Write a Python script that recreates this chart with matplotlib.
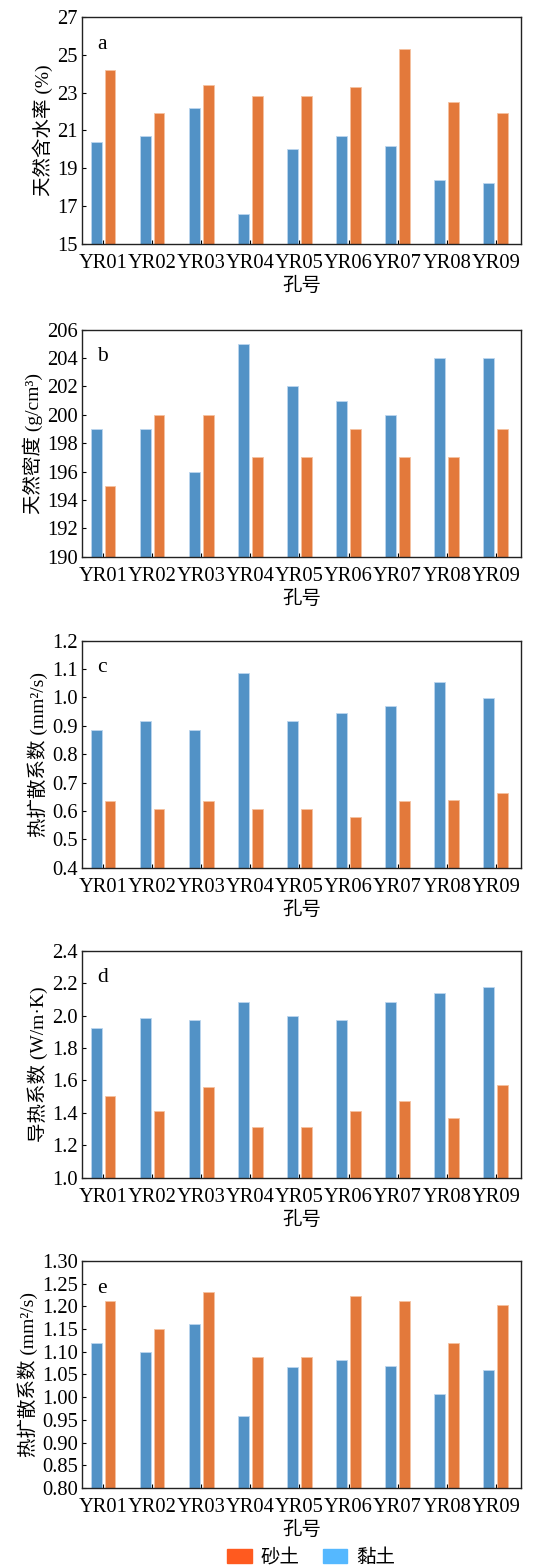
import numpy as np
import matplotlib
matplotlib.use("Agg")
from matplotlib import pyplot as plt
from matplotlib.patches import Patch

plt.rcParams['font.family'] = ['Liberation Serif', 'Noto Sans CJK SC']
plt.rcParams['axes.unicode_minus'] = False

holes = ['YR01', 'YR02', 'YR03', 'YR04', 'YR05', 'YR06', 'YR07', 'YR08', 'YR09']

# clay (blue) and sand (orange) for each panel
water_clay = [20.4, 20.7, 22.2, 16.6, 20.0, 20.7, 20.2, 18.4, 18.2]
water_sand = [24.2, 21.9, 23.4, 22.8, 22.8, 23.3, 25.3, 22.5, 21.9]

dens_clay = [199, 199, 196, 205, 202, 201, 200, 204, 204]
dens_sand = [195, 200, 200, 197, 197, 199, 197, 197, 199]

diff_clay = [0.885, 0.917, 0.884, 1.086, 0.917, 0.944, 0.969, 1.053, 0.998]
diff_sand = [0.635, 0.607, 0.635, 0.607, 0.606, 0.579, 0.636, 0.638, 0.662]

cond_clay = [1.923, 1.987, 1.972, 2.081, 1.995, 1.972, 2.081, 2.137, 2.176]
cond_sand = [1.506, 1.409, 1.559, 1.315, 1.315, 1.409, 1.473, 1.370, 1.575]

diff2_clay = [1.120, 1.100, 1.161, 0.958, 1.067, 1.081, 1.069, 1.008, 1.060]
diff2_sand = [1.212, 1.150, 1.232, 1.089, 1.089, 1.223, 1.212, 1.120, 1.203]

panels = [
    ('a', '天然含水率 (%)', water_clay, water_sand, (15, 27), np.arange(15, 28, 2), '%d'),
    ('b', '天然密度 (g/cm³)', dens_clay, dens_sand, (190, 206), np.arange(190, 207, 2), '%d'),
    ('c', '热扩散系数 (mm²/s)', diff_clay, diff_sand, (0.4, 1.2), np.arange(0.4, 1.21, 0.1), '%.1f'),
    ('d', '导热系数 (W/m·K)', cond_clay, cond_sand, (1.0, 2.4), np.arange(1.0, 2.41, 0.2), '%.1f'),
    ('e', '热扩散系数 (mm²/s)', diff2_clay, diff2_sand, (0.8, 1.3), np.arange(0.8, 1.301, 0.05), '%.2f'),
]

blue = '#5292c6'
orange = '#e3793b'

fig = plt.figure(figsize=(5.41, 15.67), dpi=100)
bottoms = [0.8443, 0.6447, 0.4463, 0.2484, 0.0504]
x = np.arange(len(holes))
w = 0.22

for (letter, ylab, clay, sand, ylim, ticks, fmt), b in zip(panels, bottoms):
    ax = fig.add_axes([0.1516, b, 0.811, 0.1449])
    ax.bar(x - 0.14, clay, w, color=blue, edgecolor='#bcd6ee', linewidth=0.6, zorder=2)
    ax.bar(x + 0.14, sand, w, color=orange, edgecolor='#f5c2a0', linewidth=0.6, zorder=2)
    ax.set_xlim(-0.43, 8.51)
    ax.set_ylim(*ylim)
    ax.set_yticks(ticks)
    ax.set_yticklabels([fmt % t for t in ticks])
    ax.set_xticks(x)
    ax.set_xticklabels(holes)
    ax.tick_params(direction='in', length=3, labelsize=14.8, pad=3)
    ax.tick_params(axis='x', pad=7.5)
    ax.set_ylabel(ylab, fontsize=14, labelpad=3)
    ax.set_xlabel('孔号', fontsize=14, labelpad=2.5)
    for s in ax.spines.values():
        s.set_linewidth(1.0)
        s.set_color('#222222')
    ax.text(0.035, 0.86, letter, transform=ax.transAxes, fontsize=15.5)

handles = [Patch(color='#ff5a1f'), Patch(color='#55b8ff')]
fig.legend(handles, ['砂土', '黏土'], loc='center', bbox_to_anchor=(0.575, 0.0057),
           ncol=2, frameon=False, fontsize=14, handlelength=1.25, handleheight=0.7,
           columnspacing=1.2, handletextpad=0.45, borderpad=0.1)

fig.savefig('out.png', dpi=100)
